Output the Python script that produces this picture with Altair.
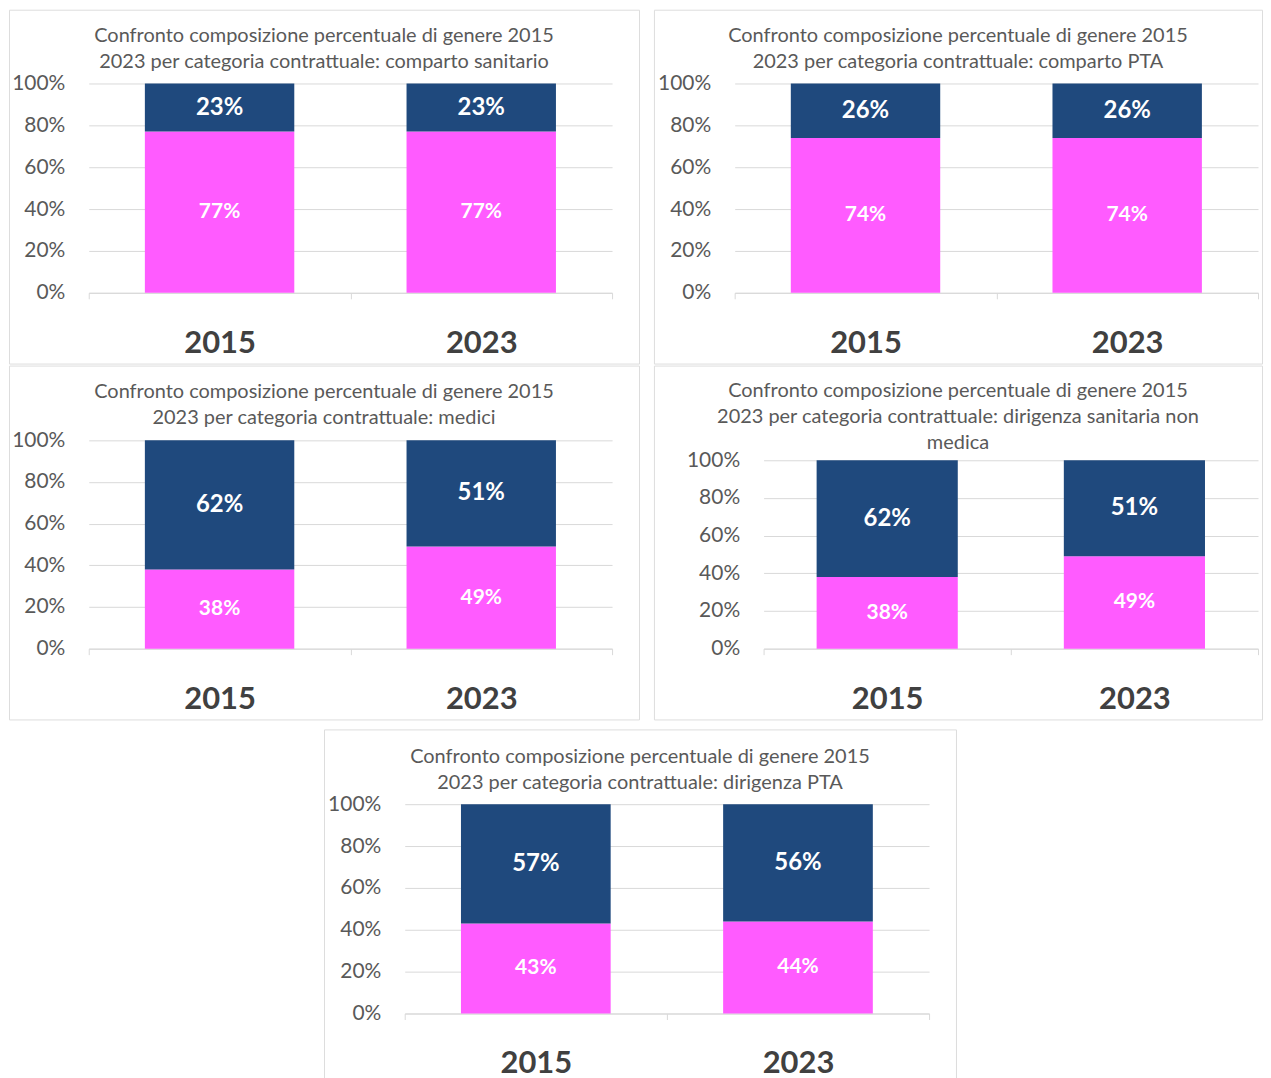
import altair as alt
import pandas as pd

FONT = "Lato"
PINK = "#FF5BFF"
NAVY = "#1F497D"
GRID = "#D9D9D9"
TXT = "#595959"

# ---- data ----
line1 = "Confronto composizione percentuale  di genere 2015"
titles = [
    [line1, "2023 per categoria contrattuale: comparto sanitario"],
    [line1, "2023 per categoria contrattuale: comparto PTA"],
    [line1, "2023 per categoria contrattuale: medici"],
    [line1, "2023 per categoria contrattuale: dirigenza sanitaria non", "medica"],
    [line1, "2023 per categoria contrattuale: dirigenza PTA"],
]
years = ["2015", "2023"]
women_2015 = [77, 74, 38, 38, 43]
women_2023 = [77, 74, 49, 49, 44]
men_2015 = [23, 26, 62, 62, 57]
men_2023 = [23, 26, 51, 51, 56]
y_ticks = [0, 0.2, 0.4, 0.6, 0.8, 1.0]
genders = ["Donne", "Uomini"]

# ---- layout (pixels, relative to each panel box) ----
layouts = [
    dict(w=632, h=355, x0=80, x1=605, ytop=74, ybot=284, toff=-62, xl=332),
    dict(w=610, h=355, x0=81, x1=606, ytop=74, ybot=284, toff=-62, xl=332),
    dict(w=632, h=355, x0=80, x1=605, ytop=75, ybot=284, toff=-63, xl=332),
    dict(w=610, h=355, x0=110, x1=606, ytop=95, ybot=284, toff=-88, xl=332),
    dict(w=634, h=352, x0=81, x1=607, ytop=75, ybot=285, toff=-64, xl=332),
]
BAR_FRAC = 0.571


def panel(i):
    L = layouts[i]
    rows = []
    for y, w, m in [(years[0], women_2015[i], men_2015[i]), (years[1], women_2023[i], men_2023[i])]:
        rows.append(dict(year=y, gender=genders[0], order=0, value=w / 100, label=f"{w}%"))
        rows.append(dict(year=y, gender=genders[1], order=1, value=m / 100, label=f"{m}%"))
    df = pd.DataFrame(rows)

    xscale = alt.Scale(range=[L["x0"], L["x1"]], paddingInner=0, paddingOuter=0)
    yscale = alt.Scale(domain=[0, 1], range=[L["ybot"], L["ytop"]], nice=False, zero=True)

    xaxis = alt.Axis(
        orient="bottom", offset=-(L["h"] - L["ybot"]), title=None, labelAngle=0,
        domainColor=GRID, tickColor=GRID, tickSize=6, tickBand="extent", grid=False,
        labelFontSize=31, labelFontWeight="bold", labelColor="#404040", labelFont=FONT,
        labelBaseline="middle", labelPadding=L["xl"] - L["ybot"] - 3,
    )
    yaxis = alt.Axis(
        orient="left", offset=-L["x0"], values=y_ticks, format=".0%", title=None,
        domain=False, ticks=False, grid=True, gridColor=GRID, labelPadding=24,
        labelFontSize=21, labelColor=TXT, labelFont=FONT,
    )

    base = alt.Chart(df)
    bars = base.mark_bar(width=alt.RelativeBandSize(BAR_FRAC)).encode(
        x=alt.X("year:N", scale=xscale, axis=xaxis),
        y=alt.Y("value:Q", stack="zero", scale=yscale, axis=yaxis),
        color=alt.Color("gender:N", scale=alt.Scale(domain=genders, range=[PINK, NAVY]), legend=None),
        order=alt.Order("order:Q"),
    )
    lab = base.transform_stack(
        stack="value", groupby=["year"], as_=["s0", "s1"], sort=[alt.SortField("order")]
    ).transform_calculate(mid="(datum.s0 + datum.s1) / 2")

    txt_w = lab.transform_filter(alt.datum.gender == genders[0]).mark_text(
        color="white", fontSize=21, fontWeight="bold", font=FONT, baseline="middle"
    ).encode(
        x=alt.X("year:N", scale=xscale, axis=xaxis),
        y=alt.Y("mid:Q", scale=yscale, axis=yaxis),
        text="label:N",
    )
    txt_m = lab.transform_filter(alt.datum.gender == genders[1]).mark_text(
        color="white", fontSize=24, fontWeight="bold", font=FONT, baseline="middle"
    ).encode(
        x=alt.X("year:N", scale=xscale, axis=xaxis),
        y=alt.Y("mid:Q", scale=yscale, axis=yaxis),
        text="label:N",
    )
    return alt.layer(bars, txt_w, txt_m).properties(
        width=L["w"], height=L["h"],
        title=alt.TitleParams(
            text=titles[i], anchor="middle", frame="group", offset=L["toff"],
            fontSize=20, font=FONT, fontWeight="normal", color=TXT, lineHeight=26,
            baseline="top",
        ),
    )


p = [panel(i) for i in range(5)]

spacer = alt.Chart(pd.DataFrame({"a": [0]})).mark_point(opacity=0).properties(
    width=315, height=10, view=alt.ViewBackground(strokeOpacity=0)
)

row1 = alt.hconcat(p[0], p[1], spacing=13)
row2 = alt.hconcat(p[2], p[3], spacing=13)
row3 = alt.hconcat(spacer, p[4], spacing=0)
chart = alt.vconcat(
    alt.vconcat(row1, row2, spacing=0), row3, spacing=8
).properties(
    padding={"left": 0, "top": -1, "right": 0, "bottom": 0}
).configure_view(stroke=GRID, strokeWidth=1).configure(font=FONT)

chart.save("out.html", embed_options={"renderer": "svg", "actions": False})
